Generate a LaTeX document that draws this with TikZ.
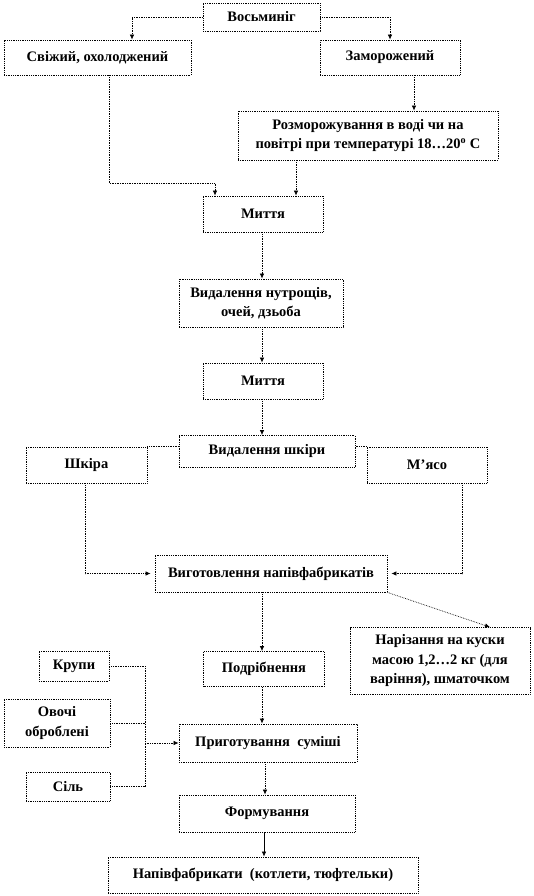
\documentclass[tikz,border=0pt]{standalone}
\usepackage{fontspec}
\setmainfont{Liberation Serif}
\usetikzlibrary{arrows.meta}

\tikzset{
	box/.style={draw, densely dotted, line width=0.8, fill=white, align=center,
		inner sep=1, font=\bfseries\fontsize{14.5}{19.5}\selectfont},
	link/.style={densely dotted, line width=0.7, -{Latex[length=5, width=4.5]}},
	joint/.style={densely dotted, line width=0.7}
}

\begin{document}
\begin{tikzpicture}[x=1pt, y=-1pt]
			\useasboundingbox (0, 0) rectangle (534, 896);

			% top
			\node[box, minimum width=117, minimum height=28] (vosm) at (261.5, 17)
				{Восьминіг};
			\node[box, minimum width=187, minimum height=35] (svizh) at (97.5, 57.5)
				{Свіжий, охолоджений};
			\node[box, minimum width=140, minimum height=35] (zamor) at (390, 57.5)
				{Заморожений};
			\node[box, minimum width=260, minimum height=49] (rozmor) at (368, 135.5)
				{Розморожування в воді чи на\\повітрі при температурі 18…20\textsuperscript{o} С};

			% main column
			\node[box, minimum width=120, minimum height=36] (myttia1) at (263, 214)
				{Миття};
			\node[box, minimum width=164, minimum height=48] (vydnut) at (261, 303)
				{Видалення нутрощів,\\очей, дзьоба};
			\node[box, minimum width=120, minimum height=36] (myttia2) at (263, 381)
				{Миття};
			\node[box, minimum width=176, minimum height=32] (vydshk) at (267, 451.5)
				{Видалення шкіри};
			\node[box, minimum width=121, minimum height=36] (shkira) at (86.5, 465)
				{Шкіра};
			\node[box, minimum width=120, minimum height=36] (miaso) at (427, 465)
				{М'ясо};
			\node[box, minimum width=232, minimum height=37] (vyhot) at (271, 573.5)
				{Виготовлення напівфабрикатів};
			\node[box, minimum width=180, minimum height=67] (nariz) at (440, 661)
				{Нарізання на куски\\масою 1,2…2 кг (для\\варіння), шматочком};
			\node[box, minimum width=121, minimum height=35] (podrib) at (264, 669)
				{Подрібнення};

			% additions
			\node[box, minimum width=70, minimum height=30] (krupy) at (74, 666)
				{Крупи};
			\node[box, minimum width=106, minimum height=48] (ovochi) at (57, 723)
				{Овочі\\оброблені};
			\node[box, minimum width=84, minimum height=29] (sil) at (68, 786.5)
				{Сіль};
			\node[box, minimum width=178, minimum height=38] (pryhot) at (268, 743)
				{Приготування~~суміші};
			\node[box, minimum width=176, minimum height=37] (form) at (267, 813.5)
				{Формування};
			\node[box, minimum width=310, minimum height=36] (napiv) at (263, 875)
				{Напівфабрикати~~(котлети, тюфтельки)};

			% links top
			\draw[link]
				(vosm.west) -| ([xshift=34.5]svizh.north);
			\draw[link]
				(vosm.east) -| (zamor.north);
			\draw[link]
				([xshift=24]zamor.south) -- ([xshift=24]zamor.south |- rozmor.north);
			\draw[link]
				([xshift=11.5]svizh.south) -- ++(0, 108) -| ([xshift=-48]myttia1.north);
			\draw[link]
				([xshift=33]myttia1.north |- rozmor.south) -- ([xshift=33]myttia1.north);

			% links main column
			\draw[link]
				([xshift=-1]myttia1.south) -- ([xshift=-1]myttia1.south |- vydnut.north);
			\draw[link]
				([xshift=-1]myttia1.south |- vydnut.south) -- ([xshift=-1]myttia2.north);
			\draw[link]
				([xshift=-1]myttia2.south) -- ([xshift=-1]myttia2.south |- vydshk.north);
			\draw[joint]
				(shkira.north east) -- (shkira.north east -| vydshk.west);
			\draw[joint]
				(miaso.north west) -- (miaso.north west -| vydshk.east);
			\draw[link]
				([xshift=-1.5]shkira.south) |- ([xshift=-4]vyhot.west);
			\draw[link]
				([xshift=35]miaso.south) |- ([xshift=4]vyhot.east);
			\draw[link]
				([xshift=-1]myttia2.south |- vyhot.south) -- ([xshift=-2]podrib.north);
			\draw[link]
				([xshift=-2]podrib.south) -- ([xshift=-2]podrib.south |- pryhot.north);
			\draw[link]
				(vyhot.south east) -- ([xshift=50]nariz.north);

			% links bottom
			\coordinate (join) at (145, 0 |- pryhot.west);
			\draw[joint]
				(krupy.east) -| (join);
			\draw[joint]
				(sil.east) -| (join);
			\draw[joint]
				(ovochi.east) -- (ovochi.east -| join);
			\draw[link]
				(join) -- (pryhot.west);
			\draw[link]
				([xshift=-3]pryhot.south) -- ([xshift=-3]pryhot.south |- form.north);
			\draw[-{Latex[length=5, width=4.5]}, line width=0.7]
				([xshift=-3]form.south) -- ([xshift=-3]form.south |- napiv.north);

		\end{tikzpicture}
\end{document}
